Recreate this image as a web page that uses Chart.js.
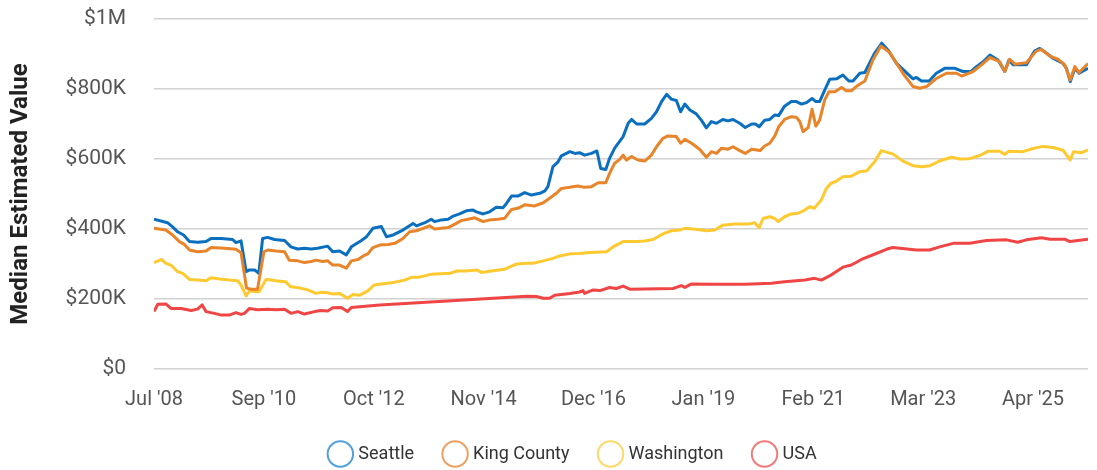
<!DOCTYPE html>
<html>
<head>
<meta charset="utf-8">
<script src="https://cdn.jsdelivr.net/npm/chart.js@4.4.1/dist/chart.umd.min.js"></script>
<style>
  html, body { margin: 0; padding: 0; background: #fff; }
</style>
</head>
<body>
<canvas id="chart" width="1097" height="470"></canvas>
<script>
// x is a period index (tick every 26 periods), values in $K
const tickIndex = [0, 26, 52, 78, 104, 130, 156, 182, 208];
const tickLabels = ["Jul '08", "Sep '10", "Oct '12", "Nov '14", "Dec '16", "Jan '19", "Feb '21", "Mar '23", "Apr '25"];

const seattleT = [0, 3.2, 4.4, 5.6, 7.0, 8.4, 10.3, 12.3, 13.5, 15.9,
  18.6, 19.4, 20.6, 21.8, 22.6, 23.8, 24.8, 25.7, 26.9, 28.5,
  30.9, 32.4, 34.0, 35.6, 37.2, 38.7, 41.1, 42.3, 43.9, 45.5,
  46.7, 48.7, 50.3, 51.8, 53.8, 55.0, 56.6, 58.9, 61.3, 62.1,
  64.1, 65.6, 66.4, 68.0, 69.6, 70.8, 72.3, 73.9, 75.5, 76.3,
  77.9, 79.4, 81.0, 82.6, 83.4, 84.6, 86.1, 87.7, 89.3, 91.3,
  92.5, 93.2, 94.4, 95.6, 96.4, 98.4, 99.6, 100.7, 101.9, 103.5,
  104.8, 105.7, 106.9, 107.8, 109.0, 111.0, 112.2, 113.0, 114.2, 116.1,
  117.7, 118.9, 120.1, 121.3, 122.4, 123.6, 124.6, 125.6, 126.8, 128.3,
  129.5, 130.7, 131.9, 133.1, 134.6, 135.8, 137.0, 138.6, 139.9, 141.4,
  142.3, 143.2, 144.5, 145.7, 146.9, 147.8, 149.2, 150.8, 152.0, 153.2,
  154.4, 155.7, 156.6, 157.5, 158.7, 159.9, 161.5, 163.0, 164.4, 165.4,
  167.0, 168.2, 170.5, 172.2, 173.7, 175.7, 179.6, 180.4, 181.6, 183.4,
  185.1, 187.1, 189.5, 191.4, 193.4, 194.6, 196.2, 197.8, 199.7, 201.3,
  202.3, 203.3, 206.4, 208.4, 209.6, 211.2, 212.7, 215.1, 215.9, 216.8,
  217.9, 218.9, 221];
const seattleV = [428, 418, 406, 392, 383, 364, 362, 364, 373, 373,
  370, 361, 366, 278, 283, 283, 273, 373, 376, 370,
  367, 349, 343, 345, 343, 345, 351, 335, 337, 326,
  349, 364, 378, 402, 407, 378, 383, 397, 416, 409,
  418, 428, 421, 426, 428, 437, 443, 452, 454, 449,
  443, 449, 462, 461, 473, 494, 494, 504, 497, 502,
  509, 521, 578, 592, 609, 621, 616, 618, 611, 616,
  623, 573, 570, 602, 631, 664, 702, 713, 700, 700,
  716, 735, 764, 785, 771, 767, 735, 757, 740, 729,
  711, 689, 707, 702, 713, 709, 713, 702, 690, 700,
  700, 692, 711, 713, 726, 724, 751, 764, 764, 757,
  761, 773, 764, 764, 797, 828, 829, 840, 823, 823,
  845, 847, 902, 931, 911, 873, 829, 833, 823, 823,
  845, 859, 859, 850, 851, 864, 878, 897, 883, 850,
  883, 869, 869, 909, 916, 902, 888, 873, 859, 821,
  859, 845, 859];

const kingT = [0, 2.8, 4.4, 6.0, 7.2, 8.4, 10.3, 12.3, 13.5, 16.7,
  19.4, 20.6, 21.9, 23.0, 24.5, 26.0, 26.9, 28.9, 30.9, 32.0,
  34.0, 35.6, 37.2, 38.3, 39.9, 41.1, 42.3, 43.9, 45.5, 46.7,
  48.3, 49.5, 50.6, 51.8, 53.4, 55.4, 57.0, 58.9, 60.5, 62.1,
  63.7, 65.2, 66.4, 68.0, 69.6, 71.2, 72.7, 74.3, 75.9, 77.9,
  79.4, 81.4, 83.0, 84.6, 86.1, 87.7, 90.1, 92.1, 93.6, 95.2,
  96.4, 98.4, 100.3, 101.9, 103.5, 105.1, 106.9, 107.8, 109.0, 110.2,
  111.0, 111.8, 113.0, 114.5, 116.1, 117.7, 118.9, 120.4, 121.6, 123.6,
  124.6, 125.6, 127.2, 129.1, 130.7, 131.9, 133.1, 134.3, 135.8, 137.0,
  138.6, 139.9, 141.4, 143.4, 144.5, 145.7, 146.9, 147.8, 149.2, 150.8,
  152.0, 152.8, 153.6, 154.8, 155.7, 156.6, 157.5, 158.7, 159.7, 161.1,
  162.7, 163.8, 165.0, 166.6, 168.2, 170.1, 172.0, 174.1, 177.2, 179.6,
  181.2, 182.8, 185.1, 187.5, 189.9, 191.1, 193.8, 195.8, 197.8, 200.1,
  201.3, 202.5, 203.7, 206.4, 208.8, 210.0, 212.0, 213.9, 215.5, 216.8,
  217.9, 218.9, 221];
const kingV = [402, 397, 383, 364, 356, 340, 335, 337, 347, 345,
  342, 332, 231, 228, 228, 335, 340, 337, 335, 311,
  309, 304, 307, 311, 307, 309, 297, 297, 288, 309,
  313, 323, 329, 347, 354, 356, 359, 373, 392, 395,
  402, 409, 400, 402, 404, 414, 424, 428, 432, 421,
  426, 428, 431, 456, 459, 469, 466, 475, 488, 502,
  516, 519, 523, 519, 521, 532, 532, 559, 588, 599,
  611, 597, 607, 597, 594, 611, 635, 659, 666, 664,
  645, 656, 645, 628, 605, 621, 616, 631, 628, 635,
  624, 616, 628, 624, 637, 645, 666, 692, 713, 721,
  719, 707, 678, 690, 742, 694, 711, 769, 792, 792,
  804, 795, 795, 811, 823, 883, 923, 904, 845, 807,
  802, 807, 830, 845, 845, 837, 850, 869, 890, 878,
  850, 885, 871, 875, 909, 913, 894, 885, 869, 826,
  864, 847, 873];

const waT = [0, 1.8, 2.8, 4.0, 5.6, 6.8, 8.4, 10.3, 12.3, 13.5,
  15.5, 17.8, 19.8, 20.6, 21.8, 22.6, 24.9, 26.5, 27.7, 29.7,
  31.2, 32.3, 34.0, 36.4, 38.3, 39.5, 41.1, 42.3, 43.9, 45.8,
  47.1, 48.7, 50.6, 52.1, 53.8, 56.6, 59.3, 60.9, 62.5, 64.1,
  65.6, 68.8, 70.0, 71.6, 73.9, 76.3, 77.5, 79.8, 83.0, 84.2,
  85.8, 88.2, 89.7, 92.1, 94.4, 96.0, 98.4, 100.7, 103.1, 107.1,
  108.6, 111.0, 114.2, 116.1, 118.1, 120.4, 122.4, 124.4, 125.6, 127.5,
  129.5, 130.7, 132.7, 134.6, 137.4, 140.6, 142.1, 143.2, 144.1, 145.7,
  146.9, 147.7, 149.2, 150.8, 152.4, 154.0, 155.2, 156.2, 157.9, 159.1,
  160.1, 161.5, 163.0, 165.0, 167.0, 168.6, 170.5, 172.1, 174.9, 177.2,
  179.6, 181.6, 183.6, 186.0, 188.7, 190.7, 193.0, 195.4, 197.3, 200.1,
  201.3, 202.2, 205.6, 208.0, 210.4, 212.7, 215.1, 215.9, 216.8, 217.6,
  219.5, 221];
const waV = [304, 313, 302, 297, 278, 273, 256, 254, 252, 261,
  257, 254, 252, 240, 209, 223, 221, 256, 254, 251,
  249, 235, 233, 226, 216, 219, 218, 214, 216, 202,
  213, 211, 223, 240, 243, 247, 254, 262, 262, 266,
  271, 273, 273, 280, 280, 283, 276, 280, 285, 292,
  300, 302, 302, 309, 316, 323, 329, 330, 333, 335,
  349, 364, 364, 366, 370, 386, 395, 397, 402, 400,
  397, 395, 397, 411, 414, 414, 418, 404, 430, 435,
  430, 421, 435, 443, 445, 454, 464, 459, 483, 516,
  530, 537, 549, 551, 564, 566, 592, 624, 614, 594,
  581, 578, 581, 595, 605, 600, 601, 610, 622, 622,
  613, 622, 621, 630, 636, 633, 625, 612, 597, 621,
  618, 626];

const usaT = [0, 0.9, 2.8, 4.0, 6.4, 8.8, 10.3, 11.4, 12.3, 14.3,
  15.9, 17.8, 19.4, 20.6, 21.4, 22.6, 24.5, 26.9, 28.9, 30.9,
  32.4, 34.0, 35.6, 38.0, 39.5, 41.1, 42.3, 44.3, 45.8, 46.7,
  48.7, 53.4, 66.4, 88.2, 90.5, 92.1, 93.6, 94.8, 98.4, 100.7,
  101.5, 101.9, 103.9, 105.5, 107.8, 109.4, 111.0, 112.6, 122.8, 124.8,
  125.6, 127.2, 132.3, 139.8, 146.1, 149.2, 154.0, 156.3, 157.9, 160.3,
  163.0, 165.0, 167.4, 170.9, 173.3, 174.8, 176.5, 180.4, 183.5, 185.9,
  189.1, 193.0, 197.0, 201.7, 204.4, 206.4, 210.0, 212.0, 215.5, 216.7,
  221];
const usaV = [164, 185, 186, 173, 173, 167, 171, 183, 164, 159,
  154, 154, 161, 156, 159, 173, 169, 171, 169, 171,
  159, 164, 157, 164, 167, 166, 175, 176, 164, 176,
  178, 183, 192, 208, 207, 202, 202, 211, 216, 220,
  224, 216, 226, 224, 233, 230, 237, 228, 230, 238,
  233, 243, 242, 242, 245, 249, 254, 259, 254, 269,
  291, 297, 313, 330, 342, 347, 345, 340, 340, 349,
  359, 359, 367, 369, 362, 369, 375, 371, 371, 364,
  371];

const seriesNames = ["Seattle", "King County", "Washington", "USA"];
const lineColors = ["#0b6fc0", "#e8842a", "#ffc930", "#ef4545"];
const legendColors = ["#52a0da", "#eea060", "#ffd866", "#f27a7a"];

Chart.defaults.font.family = "Roboto";

function points(t, v) {
  return t.map((x, i) => ({ x: x, y: v[i] * 1000 }));
}

function makeSet(i, t, v, order) {
  return {
    label: seriesNames[i],
    data: points(t, v),
    borderColor: lineColors[i],
    backgroundColor: lineColors[i],
    borderWidth: 3,
    borderJoinStyle: "round",
    pointRadius: 0,
    pointHoverRadius: 0,
    tension: 0,
    fill: false,
    order: order
  };
}

// fixed legend height, and nudge the row a bit to the right
const legendTweak = {
  id: "legendTweak",
  beforeInit(chart) {
    const fit = chart.legend.fit;
    chart.legend.fit = function () {
      fit.bind(chart.legend)();
      this.height = 57;
    };
  },
  afterLayout(chart) {
    chart.legend.left += 30;
    chart.legend.right += 30;
  }
};

const ctx = document.getElementById("chart").getContext("2d");

new Chart(ctx, {
  type: "line",
  data: {
    datasets: [
      makeSet(0, seattleT, seattleV, 2),
      makeSet(1, kingT, kingV, 1),
      makeSet(2, waT, waV, 3),
      makeSet(3, usaT, usaV, 4)
    ]
  },
  options: {
    responsive: false,
    animation: false,
    layout: { padding: { top: 19, right: 9, left: 0, bottom: 0 } },
    plugins: {
      tooltip: { enabled: false },
      legend: {
        position: "bottom",
        labels: {
          usePointStyle: true,
          boxWidth: 18,
          boxHeight: 18,
          padding: 32,
          color: "#333",
          font: { size: 18 },
          sort: (a, b) => a.datasetIndex - b.datasetIndex,
          generateLabels(chart) {
            const items = Chart.defaults.plugins.legend.labels.generateLabels(chart);
            items.forEach(item => {
              item.fillStyle = "#ffffff";
              item.strokeStyle = legendColors[item.datasetIndex];
              item.lineWidth = 2;
              item.pointStyle = "circle";
            });
            return items;
          }
        }
      }
    },
    scales: {
      x: {
        type: "linear",
        min: 0,
        max: 221,
        grid: { display: false, drawTicks: false },
        border: { display: false },
        afterBuildTicks(scale) {
          scale.ticks = tickIndex.map(v => ({ value: v }));
        },
        afterFit(scale) {
          scale.height = 44;
        },
        ticks: {
          autoSkip: false,
          maxRotation: 0,
          padding: 19,
          color: "#555",
          font: { size: 20 },
          callback: (v, i) => tickLabels[i]
        }
      },
      y: {
        min: 0,
        max: 1000000,
        grid: { color: "#d2d2d2", lineWidth: 1.5, drawTicks: true, tickLength: 25, tickColor: "rgba(0,0,0,0)" },
        border: { display: false },
        afterFit(scale) {
          scale.width = 154;
        },
        title: {
          display: true,
          text: "Median Estimated Value",
          color: "#222",
          font: { size: 24, weight: "bold" },
          padding: { top: 7, bottom: 4 }
        },
        ticks: {
          stepSize: 200000,
          padding: 3,
          color: "#555",
          font: { size: 21 },
          callback: v => v === 0 ? "$0" : v >= 1000000 ? "$" + v / 1000000 + "M" : "$" + v / 1000 + "K"
        }
      }
    }
  },
  plugins: [legendTweak]
});
</script>
</body>
</html>
